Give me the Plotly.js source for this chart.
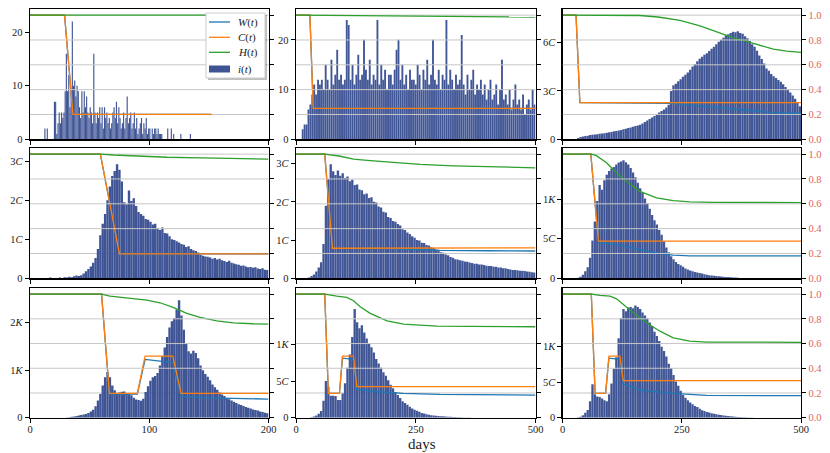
<!DOCTYPE html>
<html><head><meta charset="utf-8">
<script src="https://cdn.plot.ly/plotly-3.0.1.min.js"></script>
<style>html,body{margin:0;padding:0;background:#fff}#chart{width:830px;height:453px}</style>
</head><body><div id="chart"></div>
<script>
// ---------- DATA ----------
// histogram counts i(t), bins start at day 0
const p1Bin = 1;
const p1Counts = [0,0,0,0,0,0,0,0,0,0,0,0, 2,0,2,0,0,0,0,0,
 7,7,1,3,5,3,5,4,5,9, 16,9,12,6,9,22,10,11,8,10, 9,6,4,9,5,9,6,8,5,4,
 6,5,3,16,5,3,5,4,6,3, 6,2,6,4,5,3,4,2,3,5, 6,4,7,3,6,4,2,3,5,2,
 4,8,3,4,5,2,3,5,2,4, 1,2,3,4,1,3,2,4,1,2, 2,0,2,1,2,2,1,2,1,1,
 1,0,0,0,0,2,0,0,2,0, 1,0,0,0,0,0,1,0,0,0, 0,0,0,0,1,0,0,0,0,0];
const p2Bin = 4;
const p2Counts = [0,0,0,2,3,3,6,7,9,11,9,12,11,
 12,10,15,12,10,16,11,13,18,12,13,11,
 12,24,23,12,15,11,13,17,12,13,20,14,
 12,16,11,13,12,24,11,15,12,14,10,13,
 13,11,14,18,20,12,15,11,13,10,14,12,
 12,11,15,13,10,14,12,16,11,13,20,12,
 11,14,10,13,12,24,11,14,12,10,13,11,
 12,21,11,9,13,10,12,14,9,11,10,12,
 9,11,8,10,12,8,9,11,7,10,16,8,
 9,7,10,6,8,11,7,8,6,9,5,7,8,6,10,7];
const p3Bin = 5;
const p3Counts = [0,0,0,0,0,0, 8,15,18,20,22,26,28,30,31,34,
 36,38,41,43,46,50,52,55,58,62, 66,70,74,78,82,86,90,98,108,117,
 126,136,145,155,166,175,185,198,215,300, 335,345,360,372,388,400,415,432,452,468,
 485,500,512,525,534,548,562,575,590,606, 618,630,645,652,660,668,665,670,660,655,
 640,628,610,590,575,550,520,498,470,440, 425,405,392,380,368,358,342,325,306,290,
 272,252,232,205];
const p4Bin = 2;
const p4Counts = [0,0,0,0,0,0,0,0,2,0, 1,1,2,1,3,2,4,3,5,7,
 6,8,12,18,24,30,40,52,75,110, 140,165,200,235,262,275,292,278,248,195,
 190,225,198,205,185,170,165,160,152,150, 145,138,140,128,124,130,116,115,108,100,
 98,95,92,88,86,80,82,75,72,70, 66,60,58,56,55,53,50,52,48,50,
 46,44,42,45,40,38,36,35,32,33, 30,28,29,27,28,25,24,26,22,21];
const p5Bin = 5;
const p5Counts = [0,0,0,0,0,2,6,10,18,28, 42,90,190,260,298,280,270,282,268,275,
 262,266,254,258,244,245,232,230,220,222, 210,212,200,198,188,185,174,172,160,158,
 150,148,142,138,128,126,120,116,110,106, 100,99,93,92,87,86,81,79,75,72,
 68,67,62,60,56,54,50,49,47,46, 44,43,41,40,38,38,36,36,35,33,
 32,32,30,30,28,28,26,26,24,23, 22,22,21,20,20,19,18,17,16,15];
const p6Bin = 5;
const p6Counts = [0,0,0,0,0,0,8,20,45,90, 140,260,480,720,980,1180,1120,1240,1310,1360,
 1390,1410,1440,1465,1480,1495,1470,1440,1395,1340, 1280,1210,1140,1080,1010,950,880,800,735,680,
 610,550,470,390,330,280,240,205,180,165, 145,125,112,100,88,80,72,66,60,52,
 44,40,36,32,30,27,24,21,18,16, 13,11,9,7,5,4,3,2,1,1,
 0,0,0,0,0,0,0,0,0,0, 0,0,0,0,0,0,0,0,0,0];
const p7Bin = 2;
const p7Counts = [0,0,0,0,0,0,0,0,0,0, 0,0,0,0,0,5,10,18,25,35,
 45,55,65,80,100,130,165,240,360,500, 680,850,960,850,680,580,520,530,545,550,
 520,495,470,420,385,370,355,400,540,660, 780,850,880,940,1100,1300,1480,1700,1900,2030,
 2100,2280,2470,2150,1850,1550,1400,1350,1410,1360, 1250,1100,1000,920,860,790,700,640,590,530,
 490,455,415,390,360,335,310,285,265,245, 225,210,195,175,160,150,130,120,105,92];
const p8Bin = 5;
const p8Counts = [0,0,0,0,0,0,6,15,30,55, 90,230,500,420,300,300,295,240,240,330,
 470,680,860,1100,1480,1300,1220,1260,1160,1080, 1010,960,890,800,740,680,620,570,510,450,
 400,350,310,270,225,200,175,150,125,110, 95,80,65,57,48,40,35,31,27,24,
 21,19,16,14,12,10,8,6,5,4, 3,2,2,1,1,1,
 0,0,0,0,0,0,0,0,0,0,0,0,0,0,0,0,0,0,0,0,0,0,0,0];
const p9Bin = 5;
const p9Counts = [0,0,0,0,0,0,6,15,35,70, 110,230,470,330,300,290,270,245,230,330,
 480,690,850,1120,1400,1530,1500,1550,1560,1540, 1580,1560,1530,1480,1440,1400,1340,1290,1210,1150,
 1080,1000,940,860,760,700,600,510,450,380, 320,280,245,215,190,165,150,125,105,95,
 80,72,62,55,48,42,37,32,27,23, 19,16,13,11,9,7,5,4,3,2,
 1,1, 0,0,0,0,0,0,0,0,0,0,0,0,0,0,0,0,0,0];

// lines W(t), C(t), H(t) (right axis, 0-1)
const p1tW=[0,29,36,152], p1W=[1,1,0.201,0.201];
const p1tC=[0,29,36,152], p1C=[1,1,0.201,0.201];
const p1tH=[0,152], p1H=[1,1];
const p2tW=[0,29,36,500], p2W=[1,1,0.249,0.249];
const p2tC=[0,29,36,500], p2C=[1,1,0.249,0.249];
const p2tH=[0,100,250,500], p2H=[1,0.997,0.99,0.985];
const p3tW=[0,28,36,180,232,302,372,442,500], p3W=[1,1,0.295,0.295,0.29,0.263,0.237,0.215,0.21];
const p3tC=[0,28,36,500], p3C=[1,1,0.295,0.295];
const p3tH=[0,100,162,200,246,288,330,360,386,420,442,470,500], p3H=[1,1,0.997,0.985,0.957,0.914,0.855,0.815,0.788,0.75,0.726,0.71,0.70];
const p4tW=[0,59,75,200], p4W=[1,1,0.196,0.196];
const p4tC=[0,59,75,200], p4C=[1,1,0.196,0.196];
const p4tH=[0,59,70,87,115,143,170,200], p4H=[1,1,0.993,0.985,0.975,0.97,0.965,0.96];
const p5tW=[0,60,76,200,250,300,400,500], p5W=[1,1,0.242,0.24,0.232,0.225,0.222,0.22];
const p5tC=[0,60,76,500], p5C=[1,1,0.242,0.245];
const p5tH=[0,60,90,120,155,189,224,259,328,398,500], p5H=[1,1,0.985,0.96,0.948,0.938,0.927,0.917,0.906,0.898,0.89];
const p6tW=[0,59,75,100,127,162,197,232,267,500], p6W=[1,1,0.288,0.278,0.261,0.229,0.202,0.186,0.181,0.181];
const p6tC=[0,59,75,500], p6C=[1,1,0.30,0.30];
const p6tH=[0,60,70,78,92,113,134,162,197,232,267,320,500], p6H=[1,1,0.99,0.97,0.93,0.85,0.78,0.70,0.647,0.625,0.615,0.612,0.609];
const p7tW=[0,60,66.6,90,96.5,119.7,126.7,150,200], p7W=[1,1,0.19,0.19,0.472,0.445,0.17,0.16,0.151];
const p7tC=[0,60,66.6,90,96.5,119.7,126.7,200], p7C=[1,1,0.197,0.197,0.499,0.499,0.197,0.197];
const p7tH=[0,60,67,87,98,109,120,131.5,142.7,156.6,170.6,187,200], p7H=[1,1,0.984,0.965,0.951,0.93,0.892,0.844,0.811,0.784,0.768,0.76,0.757];
const p8tW=[0,60,67.6,90.7,97,120,127,170,224,300,500], p8W=[1,1,0.197,0.197,0.482,0.472,0.229,0.21,0.197,0.188,0.183];
const p8tC=[0,60,67.6,90.7,97,120,127,500], p8C=[1,1,0.197,0.197,0.499,0.499,0.251,0.251];
const p8tH=[0,60,85,106,120,134,155,190,224.5,259,294,364,500], p8H=[1,1,0.984,0.973,0.946,0.898,0.844,0.784,0.757,0.747,0.741,0.739,0.736];
const p9tW=[0,60,68,90,97,120,127,162,232,302,500], p9W=[1,1,0.197,0.197,0.482,0.472,0.272,0.224,0.197,0.181,0.178];
const p9tC=[0,60,68,90,97,120,127,500], p9C=[1,1,0.197,0.197,0.499,0.499,0.30,0.30];
const p9tH=[0,60,78,99,113,127,148,176,204,232,267,302,500], p9H=[1,1,0.99,0.984,0.962,0.916,0.849,0.768,0.70,0.646,0.62,0.612,0.61];

// tick labels
const xTicks200=[0,100,200], xTicks500=[0,250,500];
const p1YT=[0,10,20], p1YL=['0','10','20'];
const p2YT=[0,10,20], p2YL=['0','10','20'];
const p3YT=[0,300,600], p3YL=['0','3<i>C</i>','6<i>C</i>'];
const p4YT=[0,100,200,300], p4YL=['0','1<i>C</i>','2<i>C</i>','3<i>C</i>'];
const p5YT=[0,100,200,300], p5YL=['0','1<i>C</i>','2<i>C</i>','3<i>C</i>'];
const p6YT=[0,500,1000], p6YL=['0','5<i>C</i>','1<i>K</i>'];
const p7YT=[0,1000,2000], p7YL=['0','1<i>K</i>','2<i>K</i>'];
const p8YT=[0,500,1000], p8YL=['0','5<i>C</i>','1<i>K</i>'];
const p9YT=[0,500,1000], p9YL=['0','5<i>C</i>','1<i>K</i>'];
const rightTicks=[0,0.2,0.4,0.6,0.8,1.0], rightLabels=['0.0','0.2','0.4','0.6','0.8','1.0'];
const gridVals=[0.2,0.4,0.6,0.8,1.0];
const legendNames=['<i>W</i>(<i>t</i>)','<i>C</i>(<i>t</i>)','<i>H</i>(<i>t</i>)','<i>i</i>(<i>t</i>)'];

// ---------- BUILD ----------
const panels = [
 {bin:p1Bin,c:p1Counts,xmax:200,ymax:24.3,yt:p1YT,yl:p1YL,tW:p1tW,W:p1W,tC:p1tC,C:p1C,tH:p1tH,H:p1H,bw:0.95,below02:true},
 {bin:p2Bin,c:p2Counts,xmax:500,ymax:26.15,yt:p2YT,yl:p2YL,tW:p2tW,W:p2W,tC:p2tC,C:p2C,tH:p2tH,H:p2H,bw:4},
 {bin:p3Bin,c:p3Counts,xmax:500,ymax:807,yt:p3YT,yl:p3YL,tW:p3tW,W:p3W,tC:p3tC,C:p3C,tH:p3tH,H:p3H,bw:5},
 {bin:p4Bin,c:p4Counts,xmax:200,ymax:333,yt:p4YT,yl:p4YL,tW:p4tW,W:p4W,tC:p4tC,C:p4C,tH:p4tH,H:p4H,bw:2,below02:true},
 {bin:p5Bin,c:p5Counts,xmax:500,ymax:340,yt:p5YT,yl:p5YL,tW:p5tW,W:p5W,tC:p5tC,C:p5C,tH:p5tH,H:p5H,bw:5},
 {bin:p6Bin,c:p6Counts,xmax:500,ymax:1646,yt:p6YT,yl:p6YL,tW:p6tW,W:p6W,tC:p6tC,C:p6C,tH:p6tH,H:p6H,bw:5},
 {bin:p7Bin,c:p7Counts,xmax:200,ymax:2724,yt:p7YT,yl:p7YL,tW:p7tW,W:p7W,tC:p7tC,C:p7C,tH:p7tH,H:p7H,bw:2,below02:true},
 {bin:p8Bin,c:p8Counts,xmax:500,ymax:1763,yt:p8YT,yl:p8YL,tW:p8tW,W:p8W,tC:p8tC,C:p8C,tH:p8tH,H:p8H,bw:5,below02:true},
 {bin:p9Bin,c:p9Counts,xmax:500,ymax:1822,yt:p9YT,yl:p9YL,tW:p9tW,W:p9W,tC:p9tC,C:p9C,tH:p9tH,H:p9H,bw:5,below02:true}
];

const W0=830,H0=453;
const colX=[[30,268.5],[296,535.5],[562.7,801]];
const rowY=[[9.3,139.3],[148.3,278.3],[288.3,417.7]];
const FONT="'Liberation Serif', 'DejaVu Serif', serif";
const BAR='#3f5495', BLUE='#1f77b4', ORANGE='#ff7f0e', GREEN='#2ca02c', RED='#e06262';
const LW=1.3;
const px=v=>v/W0, py=v=>1-v/H0;

const traces=[]; const layout={
  width:W0,height:H0,margin:{l:0,r:0,t:0,b:0},
  paper_bgcolor:'#fff',plot_bgcolor:'#fff',
  font:{family:FONT,size:10.5,color:'#222'},
  barmode:'overlay',showlegend:false,
  shapes:[],annotations:[]
};

panels.forEach((p,k)=>{
  const r=Math.floor(k/3), c=k%3;
  const sfx = k===0?'':String(k+1);
  const xid='x'+sfx, yid='y'+sfx, y2n=k+10, y2id='y'+y2n;
  const dom=[px(colX[c][0]),px(colX[c][1])];
  const ydom=[py(rowY[r][1]),py(rowY[r][0])];
  const axLine={showline:true,linecolor:'#000',linewidth:LW,zeroline:false,showgrid:false,
                ticks:'outside',ticklen:4,tickwidth:1,tickcolor:'#000'};
  layout['xaxis'+sfx]=Object.assign({},axLine,{domain:dom,anchor:yid,range:[0,p.xmax],mirror:true,
     tickvals:p.xmax===200?xTicks200:xTicks500,showticklabels:r===2,ticklabelstandoff:-3,
     tickfont:{family:FONT,size:10.5,color:'#222'}});
  layout['yaxis'+sfx]=Object.assign({},axLine,{domain:ydom,anchor:xid,range:[0,p.ymax],
     tickvals:p.yt,ticktext:p.yl,tickfont:{family:FONT,size:10.5,color:'#222'}});
  layout['yaxis'+y2n]=Object.assign({},axLine,{overlaying:yid,side:'right',anchor:xid,range:[0,1.047],
     tickvals:rightTicks,ticktext:rightLabels,showticklabels:c===2,tickfont:{family:FONT,size:10.5,color:RED}});

  const xs=p.c.map((v,i)=>i*p.bin+p.bin/2);
  traces.push({type:'bar',x:xs,y:p.c,width:p.bw,xaxis:xid,yaxis:yid,
     marker:{color:BAR,line:{width:p.bin>=4?0.35:0,color:'rgba(255,255,255,0.2)'}},hoverinfo:'skip'});
  traces.push({type:'scatter',mode:'lines',x:p.tW,y:p.W,xaxis:xid,yaxis:y2id,line:{color:BLUE,width:LW},hoverinfo:'skip'});
  traces.push({type:'scatter',mode:'lines',x:p.tC,y:p.C,xaxis:xid,yaxis:y2id,line:{color:ORANGE,width:LW},hoverinfo:'skip'});
  traces.push({type:'scatter',mode:'lines',x:p.tH,y:p.H,xaxis:xid,yaxis:y2id,line:{color:GREEN,width:LW},hoverinfo:'skip'});

  gridVals.forEach(g=>{
    const below = (g===1.0) || (g===0.2 && p.below02);
    layout.shapes.push({type:'line',xref:xid+' domain',x0:0,x1:1,yref:y2id,y0:g,y1:g,
      layer:below?'below':'above',line:{color:'#c6c6c6',width:1}});
  });
});

// legend box (drawn as shapes + text, top right of first panel)
layout.shapes.push({type:'rect',xref:'paper',yref:'paper',x0:px(208),x1:px(267),y0:py(80),y1:py(15),
  layer:'above',fillcolor:'rgba(0,0,0,0.25)',line:{width:0}});
layout.shapes.push({type:'rect',xref:'paper',yref:'paper',x0:px(206),x1:px(265),y0:py(78),y1:py(13),
  layer:'above',fillcolor:'#fff',line:{color:'#cccccc',width:1}});
const legY=[22,37.3,52.3,69], legCol=[BLUE,ORANGE,GREEN,BAR];
legY.forEach((yy,i)=>{
  if(i<3){
    layout.shapes.push({type:'line',xref:'paper',yref:'paper',x0:px(209),x1:px(230),y0:py(yy),y1:py(yy),
      layer:'above',line:{color:legCol[i],width:LW}});
  } else {
    layout.shapes.push({type:'rect',xref:'paper',yref:'paper',x0:px(209),x1:px(230),y0:py(yy+3.5),y1:py(yy-3.5),
      layer:'above',fillcolor:BAR,line:{width:0}});
  }
  layout.annotations.push({text:legendNames[i],xref:'paper',yref:'paper',x:px(236),y:py(yy),
    xanchor:'left',yanchor:'middle',showarrow:false,font:{family:FONT,size:11,color:'#222'}});
});

layout.annotations.push({text:'days',xref:'paper',yref:'paper',x:px(421.7),y:py(444),
  xanchor:'center',yanchor:'middle',showarrow:false,font:{family:FONT,size:15,color:'#222'}});

Plotly.newPlot('chart',traces,layout,{staticPlot:true,displayModeBar:false});
</script></body></html>
